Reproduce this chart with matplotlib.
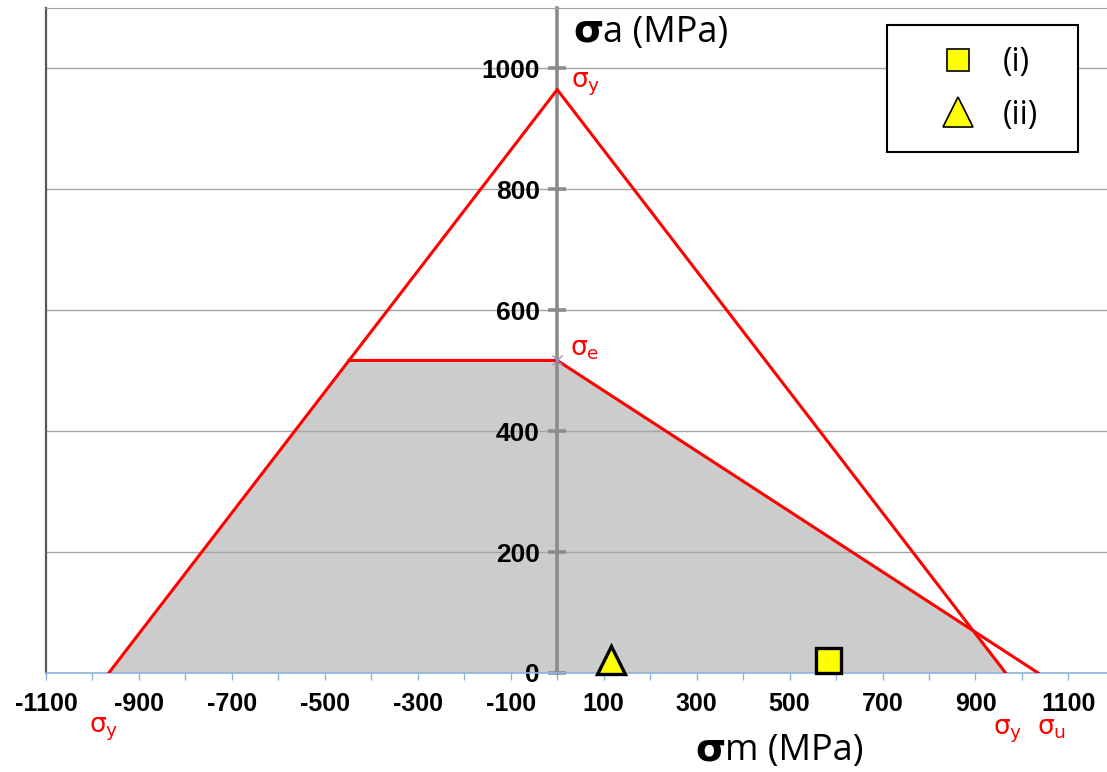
import matplotlib.pyplot as plt
from matplotlib.lines import Line2D
from matplotlib.ticker import MultipleLocator

# material strengths (MPa)
sigma_y = 965    # yield
sigma_u = 1035   # ultimate
sigma_e = 517    # endurance limit

# load cases: mean stress, stress amplitude (MPa)
case_labels = ['(i)', '(ii)']
case_mean = [582, 115]
case_amp = [21, 21]

x_ticks = list(range(-1100, 1101, 200))
y_ticks = list(range(0, 1001, 200))

red = '#FF0000'
tick_font = 'Liberation Sans'
label_font = ['Open Sans', 'DejaVu Sans']

fig = plt.figure(figsize=(11.07, 7.72), dpi=100)
ax = fig.add_axes([46 / 1107, 99 / 772, 1 - 46 / 1107, 665 / 772])
ax.set_xlim(-1100, 1183)
ax.set_ylim(0, 1100)

# safe region: yield lines, endurance cut-off and goodman line
m_int = (sigma_y - sigma_e) / (1 - sigma_e / sigma_u)
a_int = sigma_y - m_int
safe_x = [-sigma_y, -(sigma_y - sigma_e), 0, m_int, sigma_y]
safe_y = [0, sigma_e, sigma_e, a_int, 0]
ax.fill(safe_x, safe_y, color='#CCCCCC', lw=0, zorder=0.4)

# yield triangle
ax.plot([-sigma_y, 0, sigma_y], [0, sigma_y, 0], color=red, lw=2.2, zorder=3)
# endurance limit + goodman line
ax.plot([-(sigma_y - sigma_e), 0, sigma_u], [sigma_e, sigma_e, 0], color=red, lw=2.2, zorder=3)
ax.plot([0], [sigma_e], marker='x', ms=7, mew=1, color='#9A8FC4', zorder=4)

# load points
ax.plot(case_mean[0], case_amp[0], marker='s', ms=18, mew=2.4, mfc='#FFFF00', mec='black',
        ls='none', zorder=5, clip_on=False)
ax.plot(case_mean[1], case_amp[1], marker='^', ms=20, mew=2.4, mfc='#FFFF00', mec='black',
        ls='none', zorder=5, clip_on=False)

# axes styling
ax.spines['right'].set_visible(False)
ax.spines['top'].set_color('#A0A0A0')
ax.spines['bottom'].set_color('#8EB4E3')
ax.spines['bottom'].set_linewidth(1.2)
ax.spines['left'].set_position(('data', 0))
ax.spines['left'].set_color('#8C8C8C')
ax.spines['left'].set_linewidth(2.6)
ax.plot([0, 0], [0, 1], transform=ax.transAxes, color='#595959', lw=1.6, clip_on=False)

ax.set_axisbelow('line')
ax.yaxis.grid(True, color='#A6A6A6', lw=1)

ax.set_xticks(x_ticks)
ax.set_xticklabels([str(v) for v in x_ticks], fontsize=18, fontweight='bold', family=tick_font)
ax.xaxis.set_minor_locator(MultipleLocator(100))
ax.tick_params(axis='x', which='both', direction='out', length=5, width=1, color='#8EB4E3', pad=9)

ax.set_yticks(y_ticks)
ax.set_yticklabels([str(v) for v in y_ticks], fontsize=19, fontweight='bold', family=tick_font)
ax.tick_params(axis='y', direction='inout', length=13, width=2.6, color='#8C8C8C', pad=6)

# axis titles
s1 = ax.text(34, 1044, 'σ', fontsize=28, fontweight='bold', family='DejaVu Sans',
             ha='left', va='baseline')
ax.annotate('a (MPa)', xy=(1, 1044), xycoords=(s1, 'data'), fontsize=26, family=label_font,
            ha='left', va='baseline', annotation_clip=False)
s2 = ax.text(297, -144, 'σ', fontsize=28, fontweight='bold', family='DejaVu Sans',
             ha='left', va='baseline')
ax.annotate('m (MPa)', xy=(1, -144), xycoords=(s2, 'data'), fontsize=26, family=label_font,
            ha='left', va='baseline', annotation_clip=False)

# strength labels
ax.text(30, 968, r'$\mathrm{\sigma_y}$', color=red, fontsize=19, ha='left', va='baseline')
ax.text(28, 526, r'$\mathrm{\sigma_e}$', color=red, fontsize=19, ha='left', va='baseline')
ax.text(-1007, -99, r'$\mathrm{\sigma_y}$', color=red, fontsize=19, ha='left', va='baseline')
ax.text(938, -101, r'$\mathrm{\sigma_y}$', color=red, fontsize=19, ha='left', va='baseline')
ax.text(1033, -101, r'$\mathrm{\sigma_u}$', color=red, fontsize=19, ha='left', va='baseline')

# legend
handles = [
    Line2D([], [], marker='s', ms=15.5, mew=1.2, mfc='#FFFF00', mec='black', ls='none'),
    Line2D([], [], marker='^', ms=21, mew=1.2, mfc='#FFFF00', mec='black', ls='none'),
]
leg = ax.legend(handles, case_labels, loc='upper left', mode='expand',
                bbox_to_anchor=(0.7926, 0.5, 0.18, 0.474),
                borderaxespad=0, fancybox=False, framealpha=1, edgecolor='black',
                prop={'family': label_font, 'size': 23}, borderpad=0.64,
                handlelength=3.15, handletextpad=-0.17, labelspacing=0.62)
leg.get_frame().set_linewidth(1.5)

fig.savefig('out.png', dpi=100)
